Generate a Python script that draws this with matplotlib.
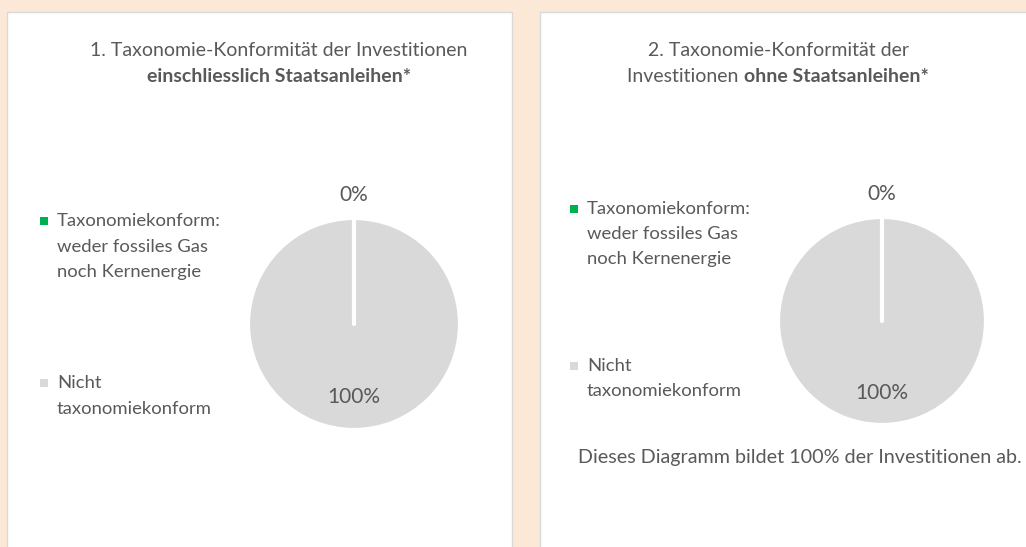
import matplotlib
matplotlib.use("Agg")
import numpy as np
import matplotlib.pyplot as plt
from matplotlib.patches import Rectangle

# data
labels = ["Taxonomiekonform:\nweder fossiles Gas\nnoch Kernenergie", "Nicht\ntaxonomiekonform"]
values_incl = [0, 100]
values_excl = [0, 100]
colors = ["#00B050", "#D9D9D9"]
title_1 = ("1. Taxonomie-Konformität der Investitionen", "einschliesslich Staatsanleihen*")
title_2 = ("2. Taxonomie-Konformität der", "Investitionen ", "ohne Staatsanleihen*")
footnote = "Dieses Diagramm bildet 100% der Investitionen ab."

W, H = 1026, 547
TEXT = "#595959"
BG = "#FBE8D7"
plt.rcParams["font.family"] = ["Lato", "DejaVu Sans"]

fig = plt.figure(figsize=(W / 100, H / 100), dpi=100, facecolor=BG)

# overlay in pixel coordinates
ov = fig.add_axes([0, 0, 1, 1])
ov.set_xlim(0, W)
ov.set_ylim(H, 0)
ov.axis("off")

ov.add_patch(Rectangle((7, 12), 505, 540, facecolor="white", edgecolor="#D9D9D9", lw=1))
ov.add_patch(Rectangle((540, 12), 500, 540, facecolor="white", edgecolor="#D9D9D9", lw=1))


def draw_pie(values, cx, cy, r):
    ax = fig.add_axes([(cx - r) / W, (H - cy - r) / H, 2 * r / W, 2 * r / H])
    wedges, _ = ax.pie(values, colors=colors, startangle=90, counterclock=False,
                       wedgeprops=dict(edgecolor="white", linewidth=3, capstyle="round"))
    wedges[0].set_zorder(3)
    ax.set_xlim(-1, 1)
    ax.set_ylim(-1, 1)
    ax.set_aspect("equal")
    ax.axis("off")
    dists = [1.22, 0.69]
    for w, v, d in zip(wedges, values, dists):
        ang = np.deg2rad((w.theta1 + w.theta2) / 2)
        ax.text(d * np.cos(ang), d * np.sin(ang), f"{v:.0f}%", ha="center", va="center",
                fontsize=15, color=TEXT)
    return ax


def draw_legend(x, ys, spacing):
    for lab, col, y0 in zip(labels, colors, ys):
        ov.scatter([x], [y0], marker="s", s=32, color=col, linewidths=0)
        for i, line in enumerate(lab.split("\n")):
            ov.text(x + 13, y0 + i * spacing, line, ha="left", va="center", fontsize=13.3, color=TEXT)


draw_pie(values_incl, 354, 324, 106)
draw_pie(values_excl, 882, 321, 104)

draw_legend(44, [221, 383], 25.5)
draw_legend(574, [209, 366], 25)

# titles
ov.text(279, 51, title_1[0], ha="center", va="center", fontsize=14, color=TEXT)
ov.text(279, 76, title_1[1], ha="center", va="center", fontsize=14, color=TEXT, weight="bold")
ov.text(778, 51, title_2[0], ha="center", va="center", fontsize=14, color=TEXT)

# mixed weight second line, centred as a whole
t_a = ov.text(0, 76, title_2[1], ha="left", va="center", fontsize=14, color=TEXT)
t_b = ov.text(0, 76, title_2[2], ha="left", va="center", fontsize=14, color=TEXT, weight="bold")
fig.canvas.draw()
rend = fig.canvas.get_renderer()
wa = t_a.get_window_extent(rend).width
wb = t_b.get_window_extent(rend).width
x0 = 778 - (wa + wb) / 2
t_a.set_x(x0)
t_b.set_x(x0 + wa)

ov.text(578, 457, footnote, ha="left", va="center", fontsize=14.2, color=TEXT)

fig.savefig("out.png", dpi=100, facecolor=BG)
